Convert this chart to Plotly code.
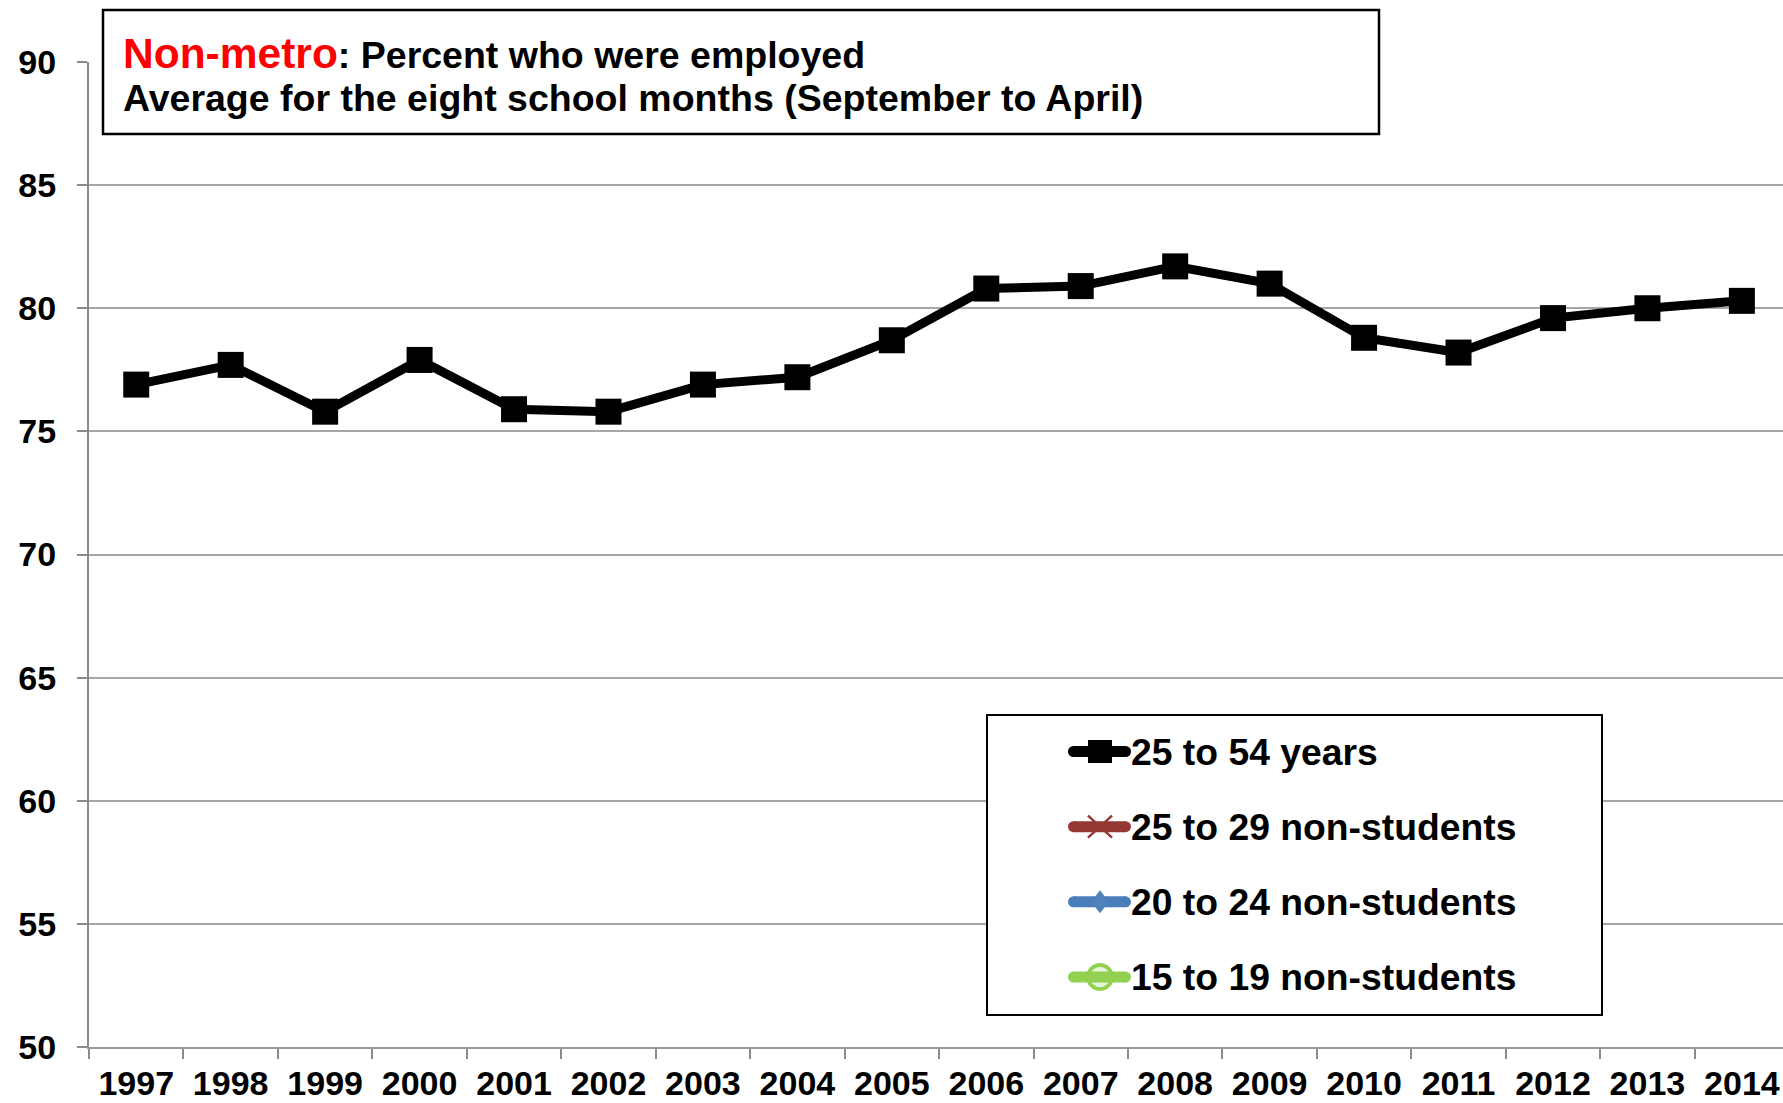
import plotly.graph_objects as go

# Employment rate, non-metro residents aged 25 to 54, school-month average
YEARS = ["1997", "1998", "1999", "2000", "2001", "2002", "2003", "2004", "2005",
         "2006", "2007", "2008", "2009", "2010", "2011", "2012", "2013", "2014"]
EMPLOYED_25_54 = [76.9, 77.7, 75.8, 77.9, 75.9, 75.8, 76.9, 77.2, 78.7,
                  80.8, 80.9, 81.7, 81.0, 78.8, 78.2, 79.6, 80.0, 80.3]

SERIES_NAMES = ["25 to 54 years", "25 to 29 non-students",
                "20 to 24 non-students", "15 to 19 non-students"]
SERIES_COLORS = ["#000000", "#953735", "#4A7EBB", "#92D050"]
SERIES_SYMBOLS = ["square", "x", "diamond", "circle"]

Y_TICKS = [50, 55, 60, 65, 70, 75, 80, 85, 90]

FONT = "Liberation Sans, Arial, sans-serif"
W, H = 1783, 1103
ML, MR, MT, MB = 89, 0, 62, 56
PW, PH = W - ML - MR, H - MT - MB


def px(xp):
    """pixel x -> paper x"""
    return (xp - ML) / PW


def py(yp):
    """pixel y (from top) -> paper y"""
    return (H - MB - yp) / PH


fig = go.Figure()
fig.add_trace(go.Scatter(
    x=YEARS, y=EMPLOYED_25_54, mode="lines+markers", name=SERIES_NAMES[0],
    line=dict(color=SERIES_COLORS[0], width=9),
    marker=dict(symbol="square", size=26, color=SERIES_COLORS[0]),
    showlegend=False, cliponaxis=False,
))

shapes = []
annotations = []

# Heading box
shapes.append(dict(type="rect", xref="paper", yref="paper",
                   x0=px(103), x1=px(1379), y0=py(134), y1=py(10),
                   line=dict(color="black", width=2.5), fillcolor="white", layer="above"))
annotations.append(dict(
    xref="paper", yref="paper", x=px(121), y=py(53), xanchor="left", yanchor="middle",
    showarrow=False, align="left",
    text="<span style='color:#FF0000;font-size:42.5px'>Non-metro</span>: Percent who were employed",
    font=dict(family=FONT, size=37.5, color="black", weight=700)))
annotations.append(dict(
    xref="paper", yref="paper", x=px(121), y=py(98), xanchor="left", yanchor="middle",
    showarrow=False, align="left",
    text="Average for the eight school months (September to April)",
    font=dict(family=FONT, size=37.5, color="black", weight=700)))

# Legend box
shapes.append(dict(type="rect", xref="paper", yref="paper",
                   x0=px(987), x1=px(1602), y0=py(1015), y1=py(715),
                   line=dict(color="black", width=2), fillcolor="white", layer="above"))

row_y = [751.5, 826.7, 901.8, 977]
lx0, lx1, lth = 1068, 1131, 11
cx = 1100
for name, col, sym, yy in zip(SERIES_NAMES, SERIES_COLORS, SERIES_SYMBOLS, row_y):
    r = lth / 2
    if sym == "circle":
        shapes.append(dict(type="circle", xref="paper", yref="paper",
                           x0=px(cx - 12), x1=px(cx + 12), y0=py(yy + 12), y1=py(yy - 12),
                           line=dict(color=col, width=3.5), fillcolor="#e8f4da", layer="above"))
    # rounded-cap legend line
    shapes.append(dict(type="rect", xref="paper", yref="paper",
                       x0=px(lx0 + r), x1=px(lx1 - r), y0=py(yy + r), y1=py(yy - r),
                       line=dict(width=0), fillcolor=col, layer="above"))
    for ex in (lx0 + r, lx1 - r):
        shapes.append(dict(type="circle", xref="paper", yref="paper",
                           x0=px(ex - r), x1=px(ex + r), y0=py(yy + r), y1=py(yy - r),
                           line=dict(width=0), fillcolor=col, layer="above"))
    if sym == "square":
        shapes.append(dict(type="rect", xref="paper", yref="paper",
                           x0=px(cx - 12), x1=px(cx + 12), y0=py(yy + 11.5), y1=py(yy - 11.5),
                           line=dict(width=0), fillcolor=col, layer="above"))
    elif sym == "x":
        for a, b in ((-11, 11), (11, -11)):
            shapes.append(dict(type="line", xref="paper", yref="paper",
                               x0=px(cx - 12), x1=px(cx + 12), y0=py(yy + a), y1=py(yy + b),
                               line=dict(color=col, width=2.5), layer="above"))
    elif sym == "diamond":
        path = "M {},{} L {},{} L {},{} L {},{} Z".format(
            px(cx), py(yy - 11.5), px(cx + 9), py(yy), px(cx), py(yy + 11.5), px(cx - 9), py(yy))
        shapes.append(dict(type="path", xref="paper", yref="paper", path=path,
                           line=dict(width=0), fillcolor="#4F81BD", layer="above"))
    elif sym == "circle":
        shapes.append(dict(type="circle", xref="paper", yref="paper",
                           x0=px(cx - 12), x1=px(cx + 12), y0=py(yy + 12), y1=py(yy - 12),
                           line=dict(color=col, width=3.5), fillcolor="rgba(0,0,0,0)", layer="above"))
    annotations.append(dict(
        xref="paper", yref="paper", x=px(1129), y=py(yy), xanchor="left", yanchor="middle",
        showarrow=False, text=name,
        font=dict(family=FONT, size=37.3, color="black", weight=700)))

cat_w = 94.45
fig.update_layout(
    width=W, height=H,
    margin=dict(l=ML, r=MR, t=MT, b=MB, autoexpand=False),
    paper_bgcolor="white", plot_bgcolor="white",
    showlegend=False,
    shapes=shapes, annotations=annotations,
    xaxis=dict(
        type="category", range=[-0.5, -0.5 + PW / cat_w], automargin=False,
        tickson="boundaries", ticks="outside", ticklen=10, tickwidth=2, tickcolor="#8a8a8a",
        showline=True, linecolor="#9a9a9a", linewidth=2, showgrid=False, zeroline=False,
        tickfont=dict(family=FONT, size=34, color="black", weight=700),
        ticklabelstandoff=5,
    ),
    yaxis=dict(
        range=[50, 90], tickvals=Y_TICKS, ticktext=[str(v) for v in Y_TICKS], automargin=False,
        ticks="outside", ticklen=10, tickwidth=2, tickcolor="#8a8a8a",
        showline=True, linecolor="#8a8a8a", linewidth=2,
        showgrid=True, gridcolor="#a6a6a6", gridwidth=2, zeroline=False,
        tickfont=dict(family=FONT, size=34, color="black", weight=700),
        ticklabelstandoff=14,
    ),
)

fig.write_html("out.html")
